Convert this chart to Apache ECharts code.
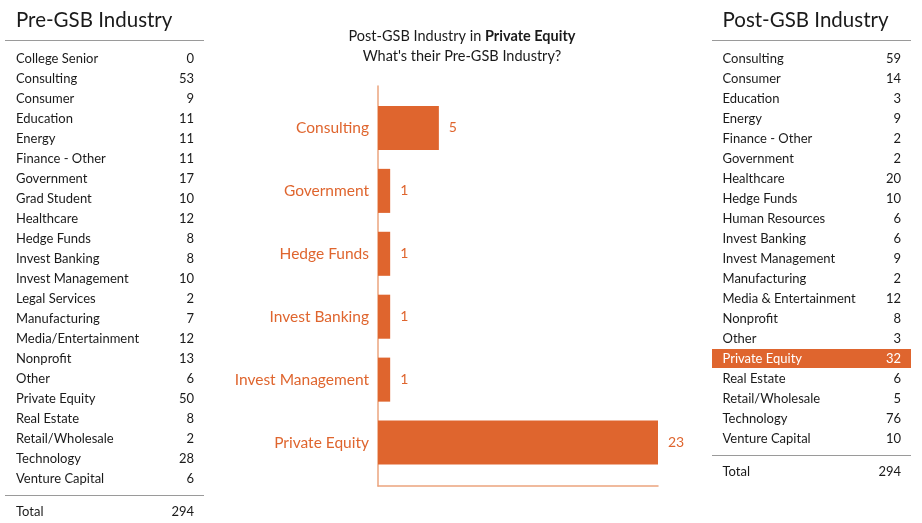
<!DOCTYPE html>
<html>
<head>
<meta charset="utf-8">
<script src="https://cdn.jsdelivr.net/npm/echarts@6/dist/echarts.min.js"></script>
<style>
html,body{margin:0;padding:0;background:#fff;}
#main{width:922px;height:523px;}
</style>
</head>
<body>
<div id="main"></div>
<script>
// ---- Center chart data ----
const barCategories = ['Consulting', 'Government', 'Hedge Funds', 'Invest Banking', 'Invest Management', 'Private Equity'];
const barValues = [5, 1, 1, 1, 1, 23];

// ---- Left table: Pre-GSB Industry ----
const preNames = ['College Senior','Consulting','Consumer','Education','Energy','Finance - Other','Government','Grad Student','Healthcare','Hedge Funds','Invest Banking','Invest Management','Legal Services','Manufacturing','Media/Entertainment','Nonprofit','Other','Private Equity','Real Estate','Retail/Wholesale','Technology','Venture Capital'];
const preValues = [0,53,9,11,11,11,17,10,12,8,8,10,2,7,12,13,6,50,8,2,28,6];
const preTotal = 294;

// ---- Right table: Post-GSB Industry ----
const postNames = ['Consulting','Consumer','Education','Energy','Finance - Other','Government','Healthcare','Hedge Funds','Human Resources','Invest Banking','Invest Management','Manufacturing','Media & Entertainment','Nonprofit','Other','Private Equity','Real Estate','Retail/Wholesale','Technology','Venture Capital'];
const postValues = [59,14,3,9,2,2,20,10,6,6,9,2,12,8,3,32,6,5,76,10];
const postTotal = 294;
const highlighted = 'Private Equity';

const FONT = 'Lato';
const ORANGE = '#DF652E';
const AXIS = '#EBA47E';
const TEXT = '#1a1a1a';

function buildTable(title, names, values, total, opts) {
  const els = [];
  const rowH = 20;
  els.push({type:'text', x: opts.textX, y: 20, style:{text:title, font:'20.5px ' + FONT, fill:TEXT, textVerticalAlign:'middle', textAlign:'left'}});
  els.push({type:'line', shape:{x1:opts.x1, y1:40.5, x2:opts.x2, y2:40.5}, style:{stroke:'#9a9a9a', lineWidth:1}});
  names.forEach((n, i) => {
    const cy = opts.rowTop + i * rowH;
    const hl = n === opts.highlight;
    if (hl) {
      els.push({type:'rect', shape:{x:opts.x1, y:cy - 10, width:opts.x2 - opts.x1, height:19}, style:{fill:ORANGE}});
    }
    els.push({type:'text', x: opts.textX, y: cy, style:{text:n, font:'13px ' + FONT, fill: hl ? '#fff' : TEXT, textVerticalAlign:'middle', textAlign:'left'}});
    els.push({type:'text', x: opts.valX, y: cy, style:{text:String(values[i]), font:'13px ' + FONT, fill: hl ? '#fff' : TEXT, textVerticalAlign:'middle', textAlign:'right'}});
  });
  const lastY = opts.rowTop + (names.length - 1) * rowH;
  const lineY = lastY + 16.5;
  els.push({type:'line', shape:{x1:opts.x1, y1:lineY, x2:opts.x2, y2:lineY}, style:{stroke:'#9a9a9a', lineWidth:1}});
  const ty = lineY + 16;
  els.push({type:'text', x: opts.textX, y: ty, style:{text:'Total', font:'13px ' + FONT, fill:TEXT, textVerticalAlign:'middle', textAlign:'left'}});
  els.push({type:'text', x: opts.valX, y: ty, style:{text:String(total), font:'13px ' + FONT, fill:TEXT, textVerticalAlign:'middle', textAlign:'right'}});
  return els;
}

const graphics = []
  .concat(buildTable('Pre-GSB Industry', preNames, preValues, preTotal, {x1:5, x2:204, textX:16, valX:194, rowTop:59}))
  .concat(buildTable('Post-GSB Industry', postNames, postValues, postTotal, {x1:712, x2:911, textX:722.5, valX:901, rowTop:59, highlight: highlighted}));

const chart = echarts.init(document.getElementById('main'), null, {renderer:'canvas'});
chart.setOption({
  animation: false,
  backgroundColor: '#fff',
  textStyle: {fontFamily: FONT},
  title: {
    left: 457, top: 21, textAlign: 'center',
    text: '{a|Post-GSB Industry in }{b|Private Equity}\n{a|What\'s their Pre-GSB Industry?}',
    textStyle: {
      fontWeight: 'normal',
      lineHeight: 20,
      rich: {
        a: {fontFamily: FONT, fontSize: 14.5, fontWeight: 'normal', color: TEXT, lineHeight: 20},
        b: {fontFamily: FONT, fontSize: 14.5, fontWeight: 'bold', color: TEXT, lineHeight: 20}
      }
    }
  },
  grid: [
    {left: 378, top: 86, width: 280, height: 400},
    {left: 378, top: 96.5, width: 280, height: 377.5}
  ],
  xAxis: [
    {type:'value', gridIndex:0, min:0, max:23, axisLine:{show:true, lineStyle:{color:AXIS, width:1.5}}, axisTick:{show:false}, axisLabel:{show:false}, splitLine:{show:false}},
    {type:'value', gridIndex:1, min:0, max:23, show:false, splitLine:{show:false}}
  ],
  yAxis: [
    {type:'category', gridIndex:0, data: barCategories, axisLine:{show:true, lineStyle:{color:AXIS, width:1.5}}, axisTick:{show:false}, axisLabel:{show:false}},
    {type:'category', gridIndex:1, inverse:true, data: barCategories, axisLine:{show:false}, axisTick:{show:false},
     axisLabel:{color: ORANGE, fontSize: 15.5, fontFamily: FONT, margin: 9}}
  ],
  series: [{
    type: 'bar', xAxisIndex: 1, yAxisIndex: 1,
    data: barValues,
    barCategoryGap: '30%',
    itemStyle: {color: ORANGE},
    label: {show: true, position: 'right', distance: 10, color: ORANGE, fontSize: 14, fontFamily: FONT}
  }],
  graphic: graphics
});
</script>
</body>
</html>
